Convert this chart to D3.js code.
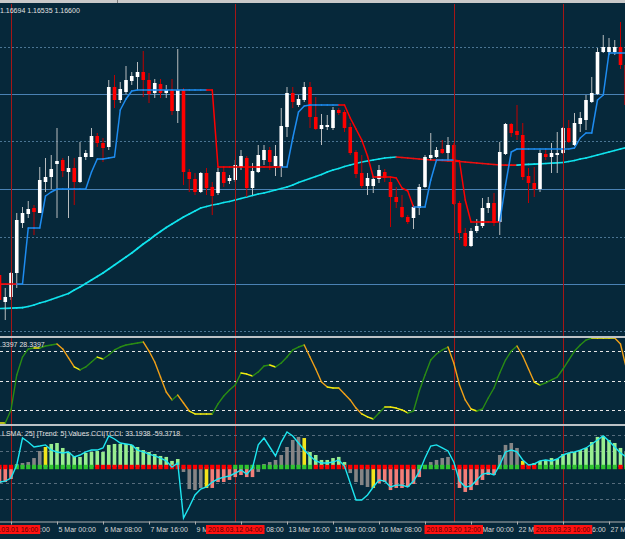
<!DOCTYPE html>
<html>
<head>
<meta charset="utf-8">
<script src="https://cdn.jsdelivr.net/npm/d3@7"></script>
<style>
body { margin: 0; background: #06283a; }
svg { display: block; }
</style>
</head>
<body>
<svg width="625" height="539"></svg>
<script>
var svg = d3.select('svg');
var width = 625;
var height = 539;
var font = '"Liberation Sans", Arial, sans-serif';
var fontSize = '7px';

// H4 bars, first one is 2018.03.01 08:00
var open = [1.1725,1.1698,1.1703,1.1727,1.1777,1.1786,1.1792,1.1787,1.1818,1.1823,
	1.1836,1.1840,1.1828,1.1832,1.1818,1.1843,1.1843,1.1864,1.1857,1.1853,
	1.1913,1.1900,1.1908,1.1919,1.1923,1.1928,1.1920,1.1907,1.1916,1.1907,
	1.1910,1.1889,1.1910,1.1828,1.1821,1.1808,1.1827,1.1813,1.1807,1.1828,
	1.1819,1.1820,1.1833,1.1842,1.1812,1.1828,1.1840,1.1850,1.1834,1.1833,
	1.1873,1.1907,1.1895,1.1900,1.1913,1.1883,1.1871,1.1873,1.1872,1.1890,
	1.1888,1.1873,1.1848,1.1827,1.1814,1.1814,1.1821,1.1828,1.1818,1.1803,
	1.1793,1.1783,1.1782,1.1792,1.1813,1.1842,1.1843,1.1851,1.1847,1.1855,
	1.1797,1.1767,1.1754,1.1769,1.1774,1.1792,1.1797,1.1778,1.1846,1.1876,
	1.1869,1.1865,1.1824,1.1817,1.1811,1.1846,1.1843,1.1845,1.1847,1.1872,
	1.1855,1.1876,1.1880,1.1898,1.1906,1.1948,1.1948,1.1948,1.1953,1.1935];
var high = [1.1730,1.1712,1.1728,1.1787,1.1793,1.1799,1.1795,1.1833,1.1842,1.1845,
	1.1872,1.1842,1.1844,1.1842,1.1858,1.1850,1.1872,1.1867,1.1862,1.1920,
	1.1925,1.1918,1.1934,1.1928,1.1938,1.1949,1.1927,1.1921,1.1921,1.1915,
	1.1921,1.1951,1.1912,1.1831,1.1827,1.1828,1.1832,1.1818,1.1832,1.1833,
	1.1825,1.1840,1.1850,1.1844,1.1837,1.1855,1.1855,1.1853,1.1855,1.1892,
	1.1913,1.1913,1.1905,1.1918,1.1918,1.1903,1.1886,1.1885,1.1893,1.1892,
	1.1890,1.1877,1.1850,1.1845,1.1827,1.1824,1.1835,1.1831,1.1822,1.1813,
	1.1805,1.1785,1.1795,1.1816,1.1845,1.1867,1.1853,1.1860,1.1863,1.1857,
	1.1799,1.1772,1.1772,1.1781,1.1802,1.1803,1.1807,1.1858,1.1877,1.1877,
	1.1895,1.1877,1.1832,1.1833,1.1850,1.1850,1.1857,1.1868,1.1873,1.1880,
	1.1887,1.1888,1.1905,1.1923,1.1952,1.1965,1.1962,1.1960,1.1978,1.1938];
var low = [1.1695,1.1680,1.1700,1.1712,1.1772,1.1782,1.1765,1.1787,1.1808,1.1811,
	1.1782,1.1823,1.1782,1.1795,1.1817,1.1840,1.1843,1.1853,1.1838,1.1850,
	1.1892,1.1897,1.1906,1.1915,1.1910,1.1903,1.1897,1.1902,1.1902,1.1902,
	1.1885,1.1877,1.1815,1.1808,1.1805,1.1807,1.1805,1.1785,1.1805,1.1813,
	1.1816,1.1818,1.1830,1.1803,1.1805,1.1827,1.1835,1.1830,1.1824,1.1823,
	1.1863,1.1892,1.1893,1.1898,1.1872,1.1870,1.1855,1.1870,1.1870,1.1885,
	1.1868,1.1845,1.1822,1.1812,1.1805,1.1807,1.1817,1.1818,1.1773,1.1792,
	1.1782,1.1776,1.1771,1.1785,1.1812,1.1840,1.1842,1.1846,1.1840,1.1795,
	1.1760,1.1753,1.1753,1.1767,1.1772,1.1787,1.1774,1.1765,1.1845,1.1863,
	1.1860,1.1820,1.1797,1.1803,1.1808,1.1840,1.1827,1.1827,1.1846,1.1857,
	1.1854,1.1868,1.1870,1.1897,1.1905,1.1947,1.1945,1.1945,1.1931,1.1892];
var close = [1.1700,1.1703,1.1727,1.1780,1.1787,1.1791,1.1788,1.1820,1.1823,1.1831,
	1.1839,1.1829,1.1832,1.1818,1.1843,1.1847,1.1864,1.1857,1.1852,1.1913,
	1.1900,1.1911,1.1920,1.1924,1.1928,1.1920,1.1906,1.1917,1.1907,1.1910,
	1.1889,1.1910,1.1828,1.1821,1.1808,1.1827,1.1812,1.1804,1.1828,1.1817,
	1.1822,1.1835,1.1844,1.1812,1.1829,1.1845,1.1850,1.1838,1.1844,1.1874,
	1.1907,1.1898,1.1901,1.1913,1.1883,1.1871,1.1875,1.1875,1.1890,1.1887,
	1.1872,1.1847,1.1826,1.1814,1.1822,1.1821,1.1830,1.1822,1.1803,1.1798,
	1.1783,1.1778,1.1793,1.1813,1.1843,1.1845,1.1850,1.1847,1.1855,1.1796,
	1.1767,1.1754,1.1769,1.1774,1.1792,1.1797,1.1777,1.1848,1.1876,1.1867,
	1.1865,1.1823,1.1817,1.1811,1.1847,1.1843,1.1847,1.1847,1.1872,1.1858,
	1.1877,1.1882,1.1900,1.1907,1.1948,1.1953,1.1953,1.1953,1.1935,1.1895];

// slow moving average (cyan when rising, red otherwise)
var ma = [1.16915,1.16917,1.16919,1.16921,1.16924,1.16935,1.16950,1.16970,1.16985,1.17005,
	1.17025,1.17045,1.17065,1.17100,1.17130,1.17165,1.17200,1.17235,1.17270,1.17310,
	1.17350,1.17390,1.17430,1.17470,1.17515,1.17560,1.17600,1.17645,1.17685,1.17725,
	1.17760,1.17795,1.17830,1.17860,1.17890,1.17920,1.17935,1.17950,1.17960,1.17975,
	1.17985,1.18000,1.18015,1.18030,1.18045,1.18060,1.18070,1.18085,1.18100,1.18115,
	1.18130,1.18150,1.18175,1.18195,1.18215,1.18235,1.18255,1.18280,1.18300,1.18315,
	1.18335,1.18350,1.18365,1.18380,1.18390,1.18400,1.18410,1.18420,1.18425,1.18430,
	1.18425,1.18420,1.18415,1.18410,1.18405,1.18400,1.18398,1.18395,1.18390,1.18388,
	1.18385,1.18380,1.18375,1.18370,1.18365,1.18360,1.18355,1.18350,1.18349,1.18348,
	1.18348,1.18353,1.18356,1.18359,1.18362,1.18365,1.18368,1.18371,1.18375,1.18385,
	1.18395,1.18410,1.18420,1.18435,1.18450,1.18465,1.18480,1.18495,1.18510,1.18525];

// step stop line and its direction (1 blue, -1 red)
var stopLine = [1.1716,1.1716,1.1716,1.1716,1.1716,1.1772,1.1772,1.1772,1.1804,1.1808,
	1.1811,1.1811,1.1811,1.1811,1.1811,1.1811,1.1828,1.1841,1.1841,1.1842,
	1.1843,1.1890,1.1901,1.1909,1.1910,1.1910,1.1910,1.1910,1.1910,1.1910,
	1.1910,1.1910,1.1910,1.1910,1.1910,1.1910,1.1910,1.1910,1.1833,1.1833,
	1.1833,1.1833,1.1833,1.1833,1.1833,1.1833,1.1833,1.1833,1.1833,1.1833,
	1.1833,1.1862,1.1888,1.1894,1.1895,1.1895,1.1895,1.1895,1.1895,1.1895,
	1.1895,1.1882,1.1871,1.1860,1.1844,1.1823,1.1823,1.1823,1.1823,1.1822,
	1.1812,1.1809,1.1793,1.1793,1.1793,1.1820,1.1840,1.1840,1.1840,1.1840,
	1.1839,1.1800,1.1778,1.1778,1.1778,1.1778,1.1778,1.1778,1.1815,1.1848,
	1.1851,1.1851,1.1851,1.1851,1.1851,1.1851,1.1851,1.1851,1.1851,1.1851,
	1.1852,1.1862,1.1867,1.1867,1.1900,1.1905,1.1947,1.1947,1.1947,1.1947];
var stopTrend = [-1,-1,-1,-1,1,1,1,1,1,1, 1,1,1,1,1,1,1,1,1,1, 1,1,1,1,1,1,1,1,1,1,
	1,1,1,1,1,1,1,-1,-1,-1, -1,-1,-1,-1,-1,-1,-1,-1,-1,-1, 1,1,1,1,1,1,1,1,1,1,
	-1,-1,-1,-1,-1,-1,-1,-1,-1,-1, -1,-1,-1,1,1,1,1,1,1,1, -1,-1,-1,-1,-1,-1,-1,-1,1,1,
	1,1,1,1,1,1,1,1,1,1, 1,1,1,1,1,1,1,1,1,1];

// oscillator window, 0..100
var osc = [0,0,15.3,56.5,77.6,87.1,88.2,88.2,90.6,91.8,
	92.9,87.1,76.5,65.9,62.4,65.9,71.8,77.6,75.3,80,
	85.9,89.4,91.8,92.9,94.1,95.3,84.7,71.8,54.1,36.5,
	27.1,32.9,23.5,14.1,10.6,10.6,10.6,10.6,22.4,31.8,
	38.8,44.7,58.8,57.6,55.3,60,67.1,68.2,65.9,70.6,
	77.6,85.9,89.4,91.8,77.6,63.5,48.2,42.4,41.2,41.2,
	34.1,27.1,17.6,10.6,7.1,4.7,11.8,18.8,18.8,17.6,
	15.3,11.8,14.1,37.6,56.5,74.1,81.2,85.9,89.4,70.6,
	44.7,27.1,16.5,14.1,16.5,29.4,41.2,58.8,74.1,84.7,
	90.6,78.8,63.5,48.2,44.7,47.1,50.6,54.1,63.5,74.1,
	84.7,91.8,97.6,100,100,100,100,100,92.9,64.7];
var oscLevels = [85, 50, 15];

// CCI window
var cci = [-94,-88,-69,13,181,156,125,131,138,106,
	94,88,94,63,75,94,106,106,119,194,
	175,150,144,138,106,94,81,69,56,38,
	0,25,-319,-250,-175,-138,-125,-94,-75,-63,
	-56,-38,-19,-44,-6,138,181,125,69,156,
	219,194,150,106,69,38,25,25,31,44,
	6,-100,-206,-206,-175,-125,-81,-88,-125,-113,
	-113,-125,-88,-31,56,131,138,119,100,31,
	-88,-125,-119,-81,-44,-38,-50,13,94,106,
	94,44,13,19,38,44,38,50,75,88,
	94,106,119,144,169,194,163,125,88,63];
var tcci = [-100,-94,-75,19,25,31,56,100,125,144,
	150,119,94,69,63,88,94,100,94,138,
	144,144,144,138,125,106,94,81,69,63,
	38,50,-31,-138,-144,-131,-131,-131,-94,-94,
	-81,-63,-50,-63,-63,-31,19,31,44,75,
	125,169,188,181,94,75,44,44,56,63,
	31,-38,-94,-113,-125,-131,-100,-94,-144,-131,
	-131,-125,-106,-63,13,31,44,56,63,-19,
	-131,-156,-144,-113,-81,-50,-50,75,138,150,
	119,38,13,25,38,44,56,50,81,88,
	94,106,119,156,188,194,169,150,119,94];
// n = no trend, y = trend forming, g = up trend, r = down trend
var tcciState = ('rrrnnnnnyg' + 'gggggggggg' + 'gggggggggg' + 'ggnnnnyrrr' + 'rrrrrnnnnn' +
	'nnnygggggg' + 'gnnnnyrrrr' + 'rrrrnnnnnn' + 'rrrrrrrnnn' + 'nygggggggg' + 'gggggggggg').split('');
// close above / below LSMA 25
var lsmaSide = ('---+++++++' + '+++++++---' + '----------' + '----------' + '-+++++++++' +
	'+++++-----' + '----------' + '---++++++-' + '-------+++' + '+---++++++' + '++++++++-+').split('');
var cciLevels = [200, 100, -100, -200];

var gridLevels = [1.1953, 1.1906, 1.1859, 1.1811, 1.1763, 1.1716, 1.1669];
var priceLines = [1.1906, 1.1811, 1.1716];
var markers = ['2018.03.01 16:00', '2018.03.12 04:00', '2018.03.20 12:00', '2018.03.23 16:00'];

var mainTitle = '1.16694 1.16535 1.16600';
var oscTitle = '.3397 28.3397';
var cciTitle = 'LSMA: 25] [Trend: 5] Values CCI|TCCI: 33.1938 -59.3718';

// bar times, weekends skipped
var times = [];
var t = Date.UTC(2018, 2, 1, 8);
while (times.length < open.length) {
	var wd = new Date(t).getUTCDay();
	if (wd != 0 && wd != 6) times.push(new Date(t));
	t += 4 * 3600 * 1000;
}

var n = open.length;
var x = d3.scaleLinear().domain([0, n - 1]).range([-0.5, -0.5 + 5.75 * (n - 1)]);
var yMain = d3.scaleLinear().domain([1.1665, 1.1996]).range([335, 4]);
var yOsc = d3.scaleLinear().domain([0, 100]).range([423, 338]);
var yCci = d3.scaleLinear().domain([-337.5, 250]).range([521, 427]);

var defs = svg.append('defs');
function clip(id, y0, h) {
	defs.append('clipPath').attr('id', id)
	.append('rect').attr('x', 0).attr('y', y0).attr('width', width).attr('height', h);
}
clip('cMain', 4, 331);
clip('cOsc', 338, 86);
clip('cCci', 426, 95);

svg.append('rect').attr('width', width).attr('height', height).attr('fill', '#06283a');
svg.append('rect').attr('width', width).attr('height', 3).attr('fill', '#c9c9c9');
svg.append('line').attr('x1', 117.5).attr('x2', 117.5).attr('y1', 0).attr('y2', 3).attr('stroke', '#7a7a7a');

// ---------- main window
var main = svg.append('g').attr('clip-path', 'url(#cMain)');

main.selectAll('.grid')
.data(gridLevels)
.enter()
.append('line')
.attr('x1', 0).attr('x2', width)
.attr('y1', function(d){ return Math.round(yMain(d)) + 0.5; })
.attr('y2', function(d){ return Math.round(yMain(d)) + 0.5; })
.attr('stroke', '#4a7492')
.attr('stroke-dasharray', '2,2');

main.selectAll('.hline')
.data(priceLines)
.enter()
.append('line')
.attr('x1', 0).attr('x2', width)
.attr('y1', function(d){ return Math.round(yMain(d)) + 0.5; })
.attr('y2', function(d){ return Math.round(yMain(d)) + 0.5; })
.attr('stroke', '#4a82b4');

var markIdx = markers.map(function(m){
	var f = d3.utcFormat('%Y.%m.%d %H:%M');
	for (var i = 0; i < n; i++) if (f(times[i]) == m) return i;
	return -1;
});

svg.selectAll('.vline')
.data(markIdx)
.enter()
.append('line')
.attr('x1', function(d){ return Math.round(x(d)) + 0.5; })
.attr('x2', function(d){ return Math.round(x(d)) + 0.5; })
.attr('y1', 4).attr('y2', 522)
.attr('stroke', '#a51616');

var idx = d3.range(n);

function segs(g, vals, scale, colorFn, w) {
	g.selectAll(null)
	.data(d3.range(1, n))
	.enter()
	.append('line')
	.attr('x1', function(i){ return x(i - 1); })
	.attr('x2', function(i){ return x(i); })
	.attr('y1', function(i){ return scale(vals[i - 1]); })
	.attr('y2', function(i){ return scale(vals[i]); })
	.attr('stroke', colorFn)
	.attr('stroke-width', w)
	.attr('stroke-linecap', 'round');
}

segs(main, ma, yMain, function(i){
	return ma[i] > ma[i - 1] ? '#10e4ee' : '#ee1010';
}, 1.7);

main.selectAll('.wick')
.data(idx)
.enter()
.append('line')
.attr('x1', function(i){ return x(i); })
.attr('x2', function(i){ return x(i); })
.attr('y1', function(i){ return yMain(high[i]); })
.attr('y2', function(i){ return yMain(low[i]); })
.attr('stroke', function(i){ return close[i] >= open[i] ? '#b8bcbe' : '#c00000'; })
.attr('stroke-width', 1);

main.selectAll('.body')
.data(idx)
.enter()
.append('rect')
.attr('x', function(i){ return x(i) - 1.8; })
.attr('width', 3.6)
.attr('y', function(i){ return yMain(Math.max(open[i], close[i])); })
.attr('height', function(i){ return Math.max(1, Math.abs(yMain(open[i]) - yMain(close[i]))); })
.attr('fill', function(i){ return close[i] >= open[i] ? '#ffffff' : '#ff0000'; });

segs(main, stopLine, yMain, function(i){
	return stopTrend[i] > 0 ? '#1e8cf0' : '#ff0000';
}, 1.5);

svg.append('text')
.attr('x', 0).attr('y', 13)
.attr('font-family', font).attr('font-size', fontSize)
.attr('fill', '#e0e0e0')
.text(mainTitle);

// ---------- oscillator window
svg.append('rect').attr('x', 0).attr('y', 336).attr('width', width).attr('height', 2).attr('fill', '#bcc2c6');
var og = svg.append('g').attr('clip-path', 'url(#cOsc)');

og.selectAll('.lvl')
.data(oscLevels)
.enter()
.append('line')
.attr('x1', 0).attr('x2', width)
.attr('y1', function(d){ return Math.round(yOsc(d)) + 0.5; })
.attr('y2', function(d){ return Math.round(yOsc(d)) + 0.5; })
.attr('stroke', '#e6e6e6')
.attr('stroke-dasharray', '3,3');

segs(og, osc, yOsc, function(i){
	var d = osc[i] - osc[i - 1];
	if (d > 0.5) return '#2a8c14';
	if (d < -4) return '#f0a018';
	return '#f4ec10';
}, 1.4);

svg.append('text')
.attr('x', 0).attr('y', 347)
.attr('font-family', font).attr('font-size', fontSize)
.attr('fill', '#e0e0e0')
.text(oscTitle);

// ---------- CCI window
svg.append('rect').attr('x', 0).attr('y', 424).attr('width', width).attr('height', 2).attr('fill', '#bcc2c6');
var cg = svg.append('g').attr('clip-path', 'url(#cCci)');

cg.selectAll('.lvl')
.data(cciLevels)
.enter()
.append('line')
.attr('x1', 0).attr('x2', width)
.attr('y1', function(d){ return Math.round(yCci(d)) + 0.5; })
.attr('y2', function(d){ return Math.round(yCci(d)) + 0.5; })
.attr('stroke', '#566c7c')
.attr('stroke-dasharray', '3,3');

var histColor = { n: '#858585', y: '#f2e41c', g: '#98ee90', r: '#f47e78' };
cg.selectAll('.hist')
.data(idx)
.enter()
.append('rect')
.attr('x', function(i){ return x(i) - 1.8; })
.attr('width', 3.6)
.attr('y', function(i){ return Math.min(yCci(0), yCci(tcci[i])); })
.attr('height', function(i){ return Math.abs(yCci(tcci[i]) - yCci(0)); })
.attr('fill', function(i){ return histColor[tcciState[i]]; });

cg.selectAll('.sq')
.data(idx)
.enter()
.append('rect')
.attr('x', function(i){ return x(i) - 2.1; })
.attr('width', 4.2)
.attr('y', yCci(0) - 2.2)
.attr('height', 4.4)
.attr('fill', function(i){ return lsmaSide[i] == '+' ? '#2fc42f' : '#ff0000'; });

cg.append('path')
.datum(idx)
.attr('d', d3.line().x(function(i){ return x(i); }).y(function(i){ return yCci(cci[i]); }))
.attr('fill', 'none')
.attr('stroke', '#1ee6f0')
.attr('stroke-width', 1.4);

svg.append('text')
.attr('x', 2).attr('y', 435.5)
.attr('font-family', font).attr('font-size', fontSize)
.attr('fill', '#e0e0e0')
.text(cciTitle);

// ---------- time axis
var fmt = d3.utcFormat('%-d %b %H:%M');
var axis = d3.axisBottom(x)
.tickValues(d3.range(2, n, 8))
.tickFormat(function(i){ return fmt(times[i]); })
.tickSize(3)
.tickSizeOuter(0);

var gx = svg.append('g')
.attr('transform', 'translate(0,521.5)')
.call(axis)
.attr('font-family', font)
.attr('font-size', fontSize);
gx.select('.domain').attr('stroke', '#b0b0b0');
gx.selectAll('.tick line').attr('stroke', '#b0b0b0');
gx.selectAll('.tick text')
.attr('fill', '#d8d8d8')
.attr('text-anchor', 'start')
.attr('x', 1)
.attr('y', 10.5)
.attr('dy', null);

var longFmt = d3.utcFormat('%Y.%m.%d %H:%M');
markIdx.forEach(function(i){
	var g = svg.append('g');
	var r = g.append('rect').attr('fill', '#ff1212');
	var tx = g.append('text')
	.attr('x', x(i)).attr('y', 532)
	.attr('text-anchor', 'middle')
	.attr('font-family', font).attr('font-size', fontSize)
	.attr('fill', '#5c0000')
	.text(longFmt(times[i]));
	var w = tx.node().getComputedTextLength() + 4;
	r.attr('x', x(i) - w / 2).attr('y', 525).attr('width', w).attr('height', 9);
});
</script>
</body>
</html>
